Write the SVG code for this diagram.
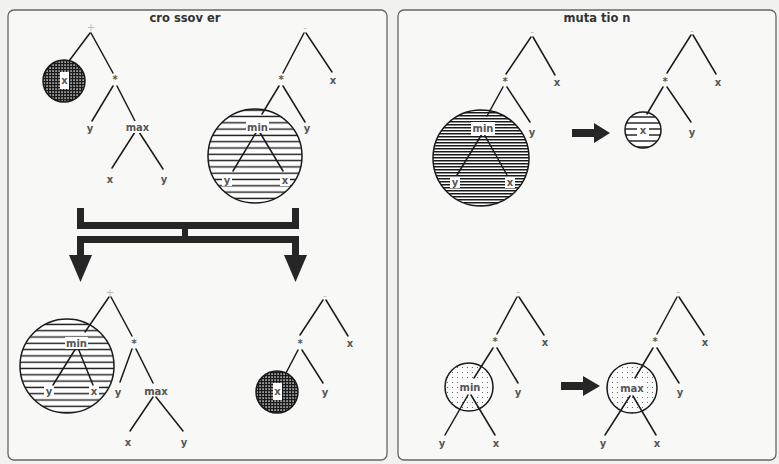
<svg xmlns="http://www.w3.org/2000/svg" width="779" height="464" viewBox="0 0 779 464">
<defs>
<style>
.panel{fill:#f8f8f7;stroke:#666;stroke-width:1.3}
.title{font-family:"DejaVu Sans",sans-serif;font-size:11.5px;font-weight:bold;fill:#333;text-anchor:middle}
.lbl{font-family:"DejaVu Sans",sans-serif;font-size:10px;font-weight:bold;fill:#555;text-anchor:middle}
.faint{font-family:"DejaVu Sans",sans-serif;font-size:10px;fill:#bbb;text-anchor:middle}
.bg{fill:#fff}
.edge{stroke:#1a1a1a;stroke-width:1.5;fill:none;stroke-linecap:round}
.ring{stroke:#1a1a1a;stroke-width:1.5}
.bar{fill:#262626}
</style>
<pattern id="hs" width="8" height="6.3" patternUnits="userSpaceOnUse"><rect width="8" height="6.3" fill="#fff"/><rect y="2.4" width="8" height="1.4" fill="#1a1a1a"/></pattern>
<pattern id="hd" width="8" height="3" patternUnits="userSpaceOnUse"><rect width="8" height="3" fill="#fff"/><rect y="1" width="8" height="1.5" fill="#1a1a1a"/></pattern>
<pattern id="hm" width="8" height="6" patternUnits="userSpaceOnUse"><rect width="8" height="6" fill="#fff"/><rect y="2.3" width="8" height="1.4" fill="#1a1a1a"/></pattern>
<pattern id="xh" width="3" height="3" patternUnits="userSpaceOnUse"><rect width="3" height="3" fill="#9a9a9a"/><rect width="3" height="1.2" fill="#1a1a1a"/><rect width="1.2" height="3" fill="#1a1a1a"/></pattern>
<pattern id="dt" width="5" height="5" patternUnits="userSpaceOnUse"><rect width="5" height="5" fill="#fbfbfb"/><circle cx="2.5" cy="2.5" r="0.6" fill="#555"/></pattern>
</defs>
<rect width="779" height="464" fill="#f1f1f0"/>
<rect class="panel" x="8" y="10" width="379" height="450" rx="6"/>
<rect class="panel" x="398" y="10" width="378" height="450" rx="6"/>
<text class="title" x="185" y="22">cro ssov er</text>
<text class="title" x="597" y="22">muta tio n</text>

<!-- highlighted subtrees (circles) -->
<g id="circles">
<circle class="ring" cx="64" cy="81" r="21" fill="url(#xh)"/>
<circle class="ring" cx="255" cy="156" r="47" fill="url(#hs)"/>
<circle class="ring" cx="67" cy="366" r="47" fill="url(#hs)"/>
<circle class="ring" cx="277" cy="392" r="21" fill="url(#xh)"/>
<circle class="ring" cx="481" cy="158" r="48" fill="url(#hd)"/>
<circle class="ring" cx="643" cy="130" r="18" fill="url(#hm)"/>
<circle class="ring" cx="469" cy="387" r="24" fill="url(#dt)"/>
<circle class="ring" cx="632" cy="388" r="25" fill="url(#dt)"/>
</g>

<g id="connectors">
<!-- crossover parent 1 -->
<line class="edge" x1="90" y1="33" x2="69" y2="61"/>
<line class="edge" x1="91" y1="33" x2="113" y2="73"/>
<line class="edge" x1="113" y1="86" x2="92" y2="121"/>
<line class="edge" x1="117" y1="86" x2="135" y2="121"/>
<line class="edge" x1="135" y1="132" x2="112" y2="168"/>
<line class="edge" x1="139" y1="132" x2="163" y2="169"/>
<!-- crossover parent 2 -->
<line class="edge" x1="304" y1="33" x2="283" y2="73"/>
<line class="edge" x1="306" y1="33" x2="332" y2="72"/>
<line class="edge" x1="279" y1="86" x2="262" y2="114"/>
<line class="edge" x1="283" y1="86" x2="305" y2="122"/>
<line class="edge" x1="257" y1="131" x2="233" y2="171"/>
<line class="edge" x1="259" y1="131" x2="283" y2="171"/>
<!-- crossover child 1 -->
<line class="edge" x1="109" y1="297" x2="85" y2="332"/>
<line class="edge" x1="111" y1="297" x2="132" y2="336"/>
<line class="edge" x1="132" y1="349" x2="120" y2="382"/>
<line class="edge" x1="136" y1="349" x2="153" y2="383"/>
<line class="edge" x1="153" y1="397" x2="130" y2="431"/>
<line class="edge" x1="156" y1="397" x2="183" y2="431"/>
<line class="edge" x1="76" y1="348" x2="53" y2="385"/>
<line class="edge" x1="78" y1="348" x2="93" y2="385"/>
<!-- crossover child 2 -->
<line class="edge" x1="323" y1="300" x2="300" y2="335"/>
<line class="edge" x1="326" y1="300" x2="348" y2="336"/>
<line class="edge" x1="298" y1="350" x2="286" y2="373"/>
<line class="edge" x1="302" y1="350" x2="323" y2="383"/>
<!-- mutation 1 before -->
<line class="edge" x1="531" y1="37" x2="506" y2="74"/>
<line class="edge" x1="533" y1="37" x2="555" y2="75"/>
<line class="edge" x1="503" y1="87" x2="487" y2="116"/>
<line class="edge" x1="507" y1="87" x2="530" y2="122"/>
<line class="edge" x1="482" y1="134" x2="457" y2="175"/>
<line class="edge" x1="484" y1="134" x2="507" y2="175"/>
<!-- mutation 1 after -->
<line class="edge" x1="691" y1="35" x2="667" y2="73"/>
<line class="edge" x1="693" y1="35" x2="716" y2="74"/>
<line class="edge" x1="663" y1="87" x2="647" y2="114"/>
<line class="edge" x1="667" y1="87" x2="691" y2="122"/>
<!-- mutation 2 before -->
<line class="edge" x1="517" y1="297" x2="497" y2="334"/>
<line class="edge" x1="519" y1="297" x2="544" y2="335"/>
<line class="edge" x1="493" y1="348" x2="474" y2="378"/>
<line class="edge" x1="497" y1="348" x2="518" y2="383"/>
<line class="edge" x1="468" y1="395" x2="445" y2="435"/>
<line class="edge" x1="471" y1="395" x2="495" y2="435"/>
<!-- mutation 2 after -->
<line class="edge" x1="677" y1="297" x2="657" y2="334"/>
<line class="edge" x1="679" y1="297" x2="704" y2="335"/>
<line class="edge" x1="653" y1="348" x2="635" y2="378"/>
<line class="edge" x1="657" y1="348" x2="679" y2="383"/>
<line class="edge" x1="630" y1="396" x2="605" y2="435"/>
<line class="edge" x1="633" y1="396" x2="656" y2="435"/>
<!-- crossover combining arrows -->
<g class="bar">
<rect x="77" y="208" width="7" height="21"/>
<rect x="292" y="208" width="7" height="21"/>
<rect x="77" y="222" width="222" height="7"/>
<rect x="182" y="228" width="6" height="9"/>
<rect x="77" y="236" width="222" height="7"/>
<rect x="77" y="236" width="7" height="20"/>
<rect x="292" y="236" width="7" height="20"/>
<polygon points="69,255 92,255 80.5,282"/>
<polygon points="284,255 307,255 295.5,282"/>
</g>
<!-- mutation arrows -->
<g class="bar">
<polygon points="572,129 594,129 594,123 610,133 594,143 594,137 572,137"/>
<polygon points="561,382 583,382 583,376 600,386 583,396 583,390 561,390"/>
</g>
</g>

<!-- crossover parent 1 nodes -->
<g id="c1-root"><text class="faint" x="91" y="31">+</text></g>
<g id="c1-x"><rect class="bg" x="60" y="72" width="9" height="17"/><text class="lbl" x="64.5" y="84">x</text></g>
<g id="c1-mul"><text class="lbl" x="115" y="83">*</text></g>
<g id="c1-y"><text class="lbl" x="90" y="132">y</text></g>
<g id="c1-max"><rect class="bg" x="124" y="121" width="27" height="12"/><text class="lbl" x="137.5" y="131">max</text></g>
<g id="c1-max-x"><text class="lbl" x="110" y="183">x</text></g>
<g id="c1-max-y"><text class="lbl" x="164" y="183">y</text></g>

<!-- crossover parent 2 nodes -->
<g id="c2-root"><text class="faint" x="305" y="31">-</text></g>
<g id="c2-mul"><text class="lbl" x="281" y="83">*</text></g>
<g id="c2-x"><text class="lbl" x="333" y="84">x</text></g>
<g id="c2-min"><rect class="bg" x="246" y="121" width="23" height="12"/><text class="lbl" x="257.5" y="131">min</text></g>
<g id="c2-y"><text class="lbl" x="307" y="132">y</text></g>
<g id="c2-min-y"><rect class="bg" x="222" y="175" width="10" height="11"/><text class="lbl" x="227" y="184">y</text></g>
<g id="c2-min-x"><rect class="bg" x="280" y="175" width="10" height="11"/><text class="lbl" x="285" y="184">x</text></g>

<!-- crossover child 1 nodes -->
<g id="o1-root"><text class="faint" x="110" y="296">+</text></g>
<g id="o1-min"><rect class="bg" x="65" y="337" width="23" height="12"/><text class="lbl" x="76.5" y="347">min</text></g>
<g id="o1-min-y"><rect class="bg" x="44" y="386" width="10" height="11"/><text class="lbl" x="49" y="395">y</text></g>
<g id="o1-min-x"><rect class="bg" x="89" y="386" width="10" height="11"/><text class="lbl" x="94" y="395">x</text></g>
<g id="o1-mul"><text class="lbl" x="134" y="347">*</text></g>
<g id="o1-y"><text class="lbl" x="118" y="396">y</text></g>
<g id="o1-max"><text class="lbl" x="156" y="395">max</text></g>
<g id="o1-max-x"><text class="lbl" x="128" y="446">x</text></g>
<g id="o1-max-y"><text class="lbl" x="184" y="446">y</text></g>

<!-- crossover child 2 nodes -->
<g id="o2-root"><text class="faint" x="325" y="299">-</text></g>
<g id="o2-mul"><text class="lbl" x="300" y="347">*</text></g>
<g id="o2-x"><text class="lbl" x="350" y="347">x</text></g>
<g id="o2-sub-x"><rect class="bg" x="273" y="383" width="9" height="17"/><text class="lbl" x="277.5" y="395">x</text></g>
<g id="o2-y"><text class="lbl" x="325" y="396">y</text></g>

<!-- mutation 1 before -->
<g id="m1-root"><text class="faint" x="532" y="35">-</text></g>
<g id="m1-mul"><text class="lbl" x="505" y="85">*</text></g>
<g id="m1-x"><text class="lbl" x="557" y="86">x</text></g>
<g id="m1-min"><rect class="bg" x="471" y="122" width="24" height="13"/><text class="lbl" x="483" y="132">min</text></g>
<g id="m1-y"><text class="lbl" x="532" y="136">y</text></g>
<g id="m1-min-y"><rect class="bg" x="450" y="177" width="10" height="11"/><text class="lbl" x="455" y="186">y</text></g>
<g id="m1-min-x"><rect class="bg" x="505" y="177" width="10" height="11"/><text class="lbl" x="510" y="186">x</text></g>

<!-- mutation 1 after -->
<g id="m1b-root"><text class="faint" x="692" y="34">-</text></g>
<g id="m1b-mul"><text class="lbl" x="665" y="85">*</text></g>
<g id="m1b-x"><text class="lbl" x="718" y="86">x</text></g>
<g id="m1b-sub-x"><rect class="bg" x="637" y="125" width="12" height="11"/><text class="lbl" x="643" y="134">x</text></g>
<g id="m1b-y"><text class="lbl" x="692" y="136">y</text></g>

<!-- mutation 2 before -->
<g id="m2-root"><text class="faint" x="518" y="295">-</text></g>
<g id="m2-mul"><text class="lbl" x="495" y="345">*</text></g>
<g id="m2-x"><text class="lbl" x="545" y="346">x</text></g>
<g id="m2-min"><rect class="bg" x="459" y="381" width="22" height="12"/><text class="lbl" x="470" y="391">min</text></g>
<g id="m2-y"><text class="lbl" x="518" y="396">y</text></g>
<g id="m2-min-y"><text class="lbl" x="442" y="447">y</text></g>
<g id="m2-min-x"><text class="lbl" x="496" y="447">x</text></g>

<!-- mutation 2 after -->
<g id="m2b-root"><text class="faint" x="678" y="295">-</text></g>
<g id="m2b-mul"><text class="lbl" x="655" y="345">*</text></g>
<g id="m2b-x"><text class="lbl" x="705" y="346">x</text></g>
<g id="m2b-max"><rect class="bg" x="619" y="382" width="26" height="12"/><text class="lbl" x="632" y="392">max</text></g>
<g id="m2b-y"><text class="lbl" x="680" y="396">y</text></g>
<g id="m2b-max-y"><text class="lbl" x="603" y="447">y</text></g>
<g id="m2b-max-x"><text class="lbl" x="657" y="447">x</text></g>
</svg>
